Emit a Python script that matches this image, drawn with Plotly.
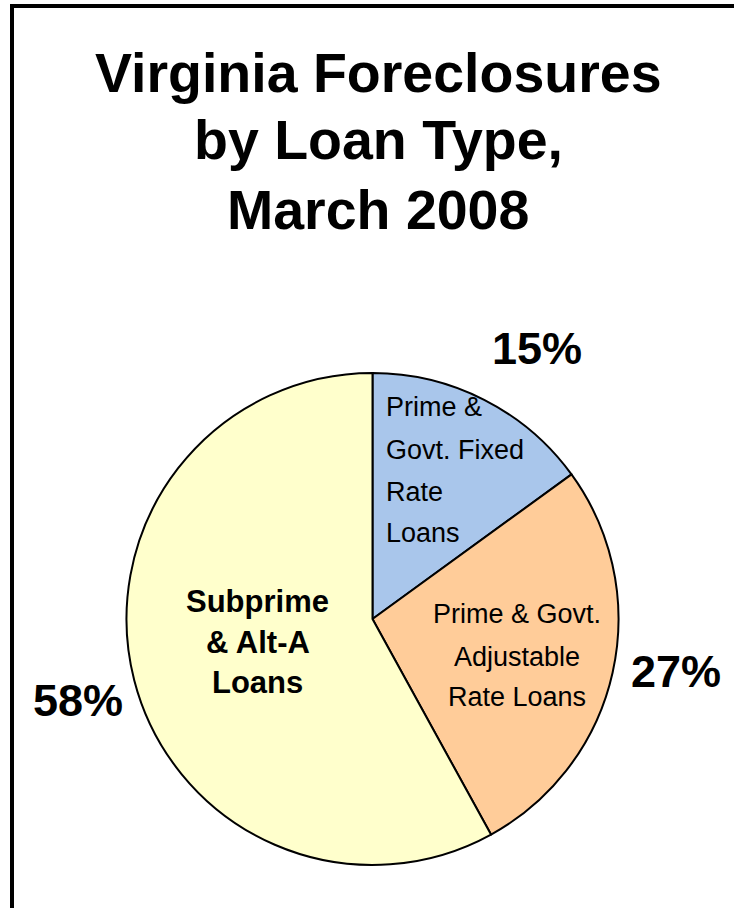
import plotly.graph_objects as go

W, H = 734, 908

categories = ["Prime & Govt. Fixed Rate Loans",
              "Prime & Govt. Adjustable Rate Loans",
              "Subprime & Alt-A Loans"]
values = [15, 27, 58]
pct_labels = ["15%", "27%", "58%"]
colors = ["#A9C6EB", "#FFCC99", "#FFFFCC"]
title_lines = ["Virginia Foreclosures", "by Loan Type,", "March 2008"]
blue_lines = ["Prime &", "Govt. Fixed", "Rate", "Loans"]
orange_lines = ["Prime & Govt.", "Adjustable", "Rate Loans"]
yellow_lines = ["Subprime", "& Alt-A", "Loans"]


def px(x):
    return x / W


def py(y):
    return 1 - y / H


cx, cy, r = 372.5, 619, 246

fig = go.Figure(go.Pie(
    labels=categories,
    values=values,
    sort=False,
    direction="clockwise",
    rotation=0,
    textinfo="none",
    hoverinfo="label+percent",
    marker=dict(colors=colors, line=dict(color="black", width=2)),
    domain=dict(x=[px(cx - r), px(cx + r)], y=[py(cy + r), py(cy - r)]),
    showlegend=False,
))

ann = []
# Title
for line, ymid in zip(title_lines, [72.5, 140, 210]):
    ann.append(dict(text=f"<b>{line}</b>", x=px(378), y=py(ymid),
                    xanchor="center", yanchor="middle", showarrow=False,
                    font=dict(family="Liberation Sans", size=55.5, color="black")))

# Blue slice label
for line, ymid in zip(blue_lines, [407.5, 449.5, 491.5, 532.5]):
    ann.append(dict(text=line, x=px(384), y=py(ymid), xanchor="left",
                    yanchor="middle", showarrow=False,
                    font=dict(family="Liberation Sans", size=27, color="black")))

# Orange slice label
for line, ymid in zip(orange_lines, [614, 657, 697]):
    ann.append(dict(text=line, x=px(517), y=py(ymid), xanchor="center",
                    yanchor="middle", showarrow=False,
                    font=dict(family="Liberation Sans", size=27, color="black")))

# Yellow slice label
for line, ymid in zip(yellow_lines, [601.5, 642.5, 682.5]):
    ann.append(dict(text=f"<b>{line}</b>", x=px(257.5), y=py(ymid),
                    xanchor="center", yanchor="middle", showarrow=False,
                    font=dict(family="Liberation Sans", size=31, color="black")))

# Percent labels
for lab, (x, y) in zip(pct_labels, [(537, 348), (676, 671), (78, 700)]):
    ann.append(dict(text=f"<b>{lab}</b>", x=px(x), y=py(y), xanchor="center",
                    yanchor="middle", showarrow=False,
                    font=dict(family="Liberation Sans", size=45, color="black")))

shapes = [
    dict(type="line", xref="paper", yref="paper", x0=px(10), x1=px(734),
         y0=py(6), y1=py(6), line=dict(color="black", width=4)),
    dict(type="line", xref="paper", yref="paper", x0=px(12), x1=px(12),
         y0=py(4), y1=py(908), line=dict(color="black", width=4)),
]

fig.update_layout(
    width=W, height=H,
    margin=dict(l=0, r=0, t=0, b=0),
    paper_bgcolor="white", plot_bgcolor="white",
    annotations=ann, shapes=shapes,
)

fig.write_html("out.html", config={"displayModeBar": False})
